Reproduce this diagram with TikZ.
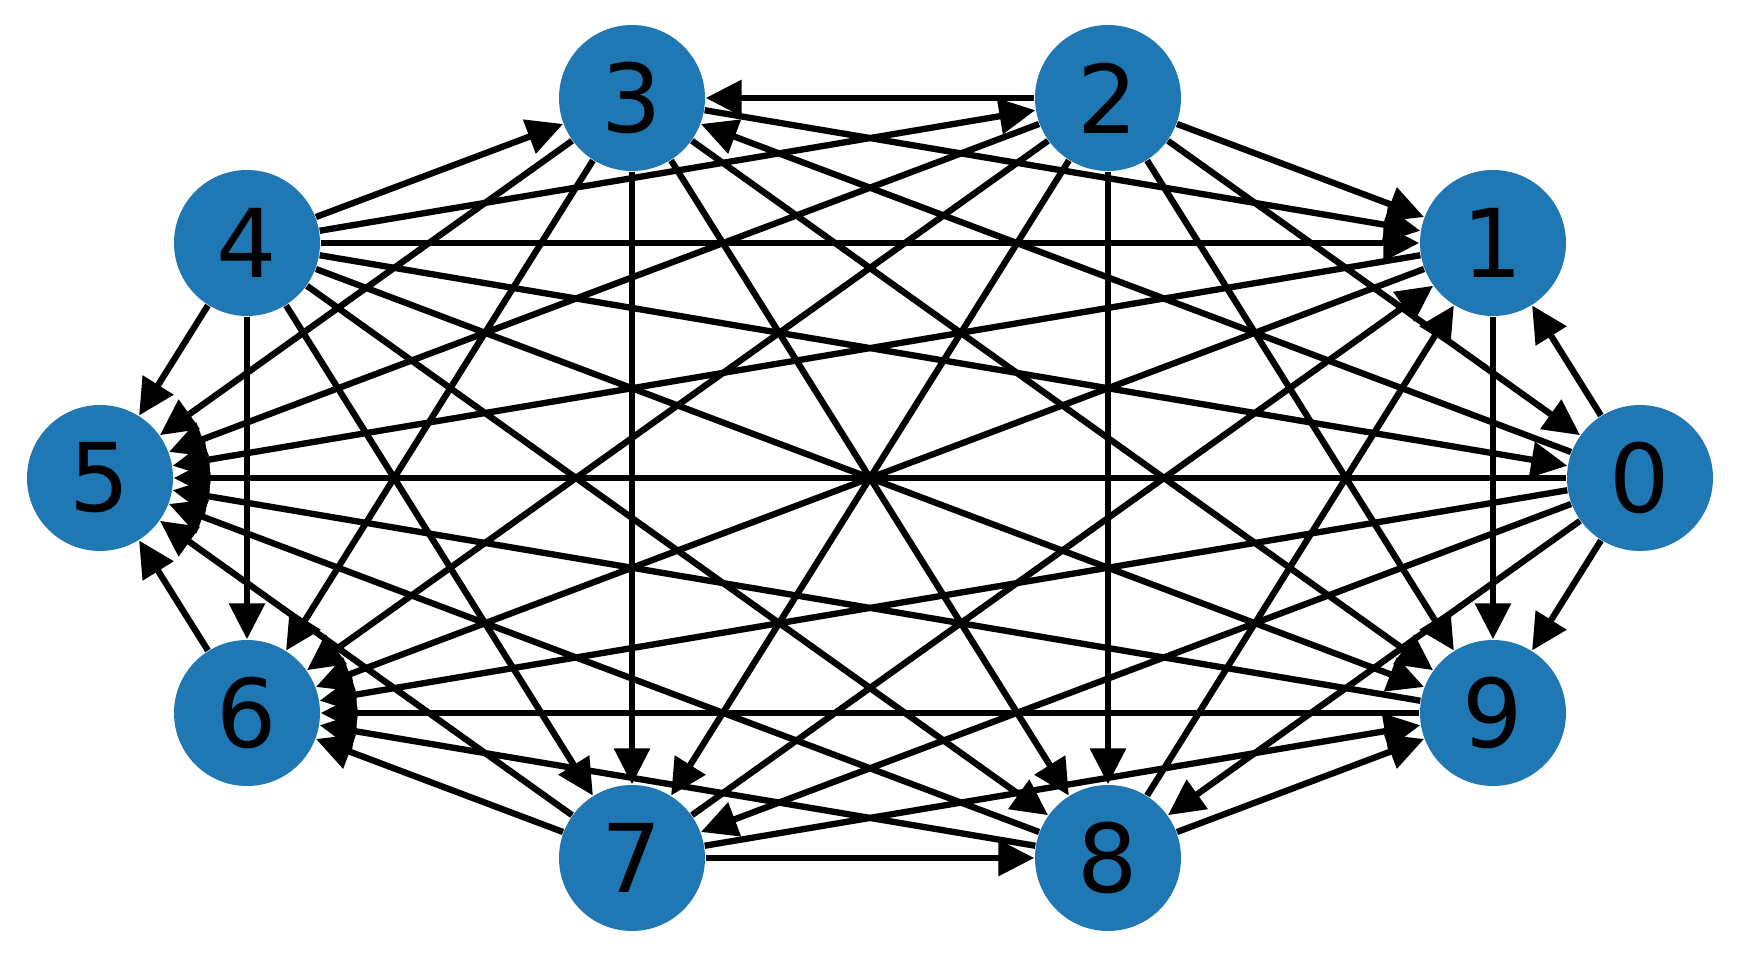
\documentclass[tikz,border=0pt]{standalone}
\usepackage{fontspec}
\setmainfont{DejaVu Sans}
\usetikzlibrary{arrows.meta}
\definecolor{nodeblue}{RGB}{31,119,180}
\tikzset{
  vertex/.style={circle, fill=nodeblue, minimum size=1.46cm, inner sep=0pt,
    font=\fontsize{27}{27}\selectfont},
  edge/.style={line width=1.8pt, -{Triangle[length=3.6mm,width=3.5mm]}}
}

\begin{document}
\begin{tikzpicture}
\useasboundingbox (0,0) rectangle (17.48,9.64);
\node[vertex] (n0) at (16.40,4.86) {0};
\node[vertex] (n1) at (14.93,7.21) {1};
\node[vertex] (n2) at (11.08,8.66) {2};
\node[vertex] (n3) at (6.32,8.66) {3};
\node[vertex] (n4) at (2.47,7.21) {4};
\node[vertex] (n5) at (1.00,4.86) {5};
\node[vertex] (n6) at (2.47,2.51) {6};
\node[vertex] (n7) at (6.32,1.06) {7};
\node[vertex] (n8) at (11.08,1.06) {8};
\node[vertex] (n9) at (14.93,2.51) {9};
\foreach \t in {2,0,3,7,8,1,9,6,5} \draw[edge] (n4) -- (n\t);
\foreach \t in {0,3,7,8,1,9,6,5} \draw[edge] (n2) -- (n\t);
\foreach \t in {3,7,8,1,9,6,5} \draw[edge] (n0) -- (n\t);
\foreach \t in {7,8,1,9,6,5} \draw[edge] (n3) -- (n\t);
\foreach \t in {8,1,9,6,5} \draw[edge] (n7) -- (n\t);
\foreach \t in {1,9,6,5} \draw[edge] (n8) -- (n\t);
\foreach \t in {9,6,5} \draw[edge] (n1) -- (n\t);
\foreach \t in {6,5} \draw[edge] (n9) -- (n\t);
\draw[edge] (n6) -- (n5);
\end{tikzpicture}
\end{document}
